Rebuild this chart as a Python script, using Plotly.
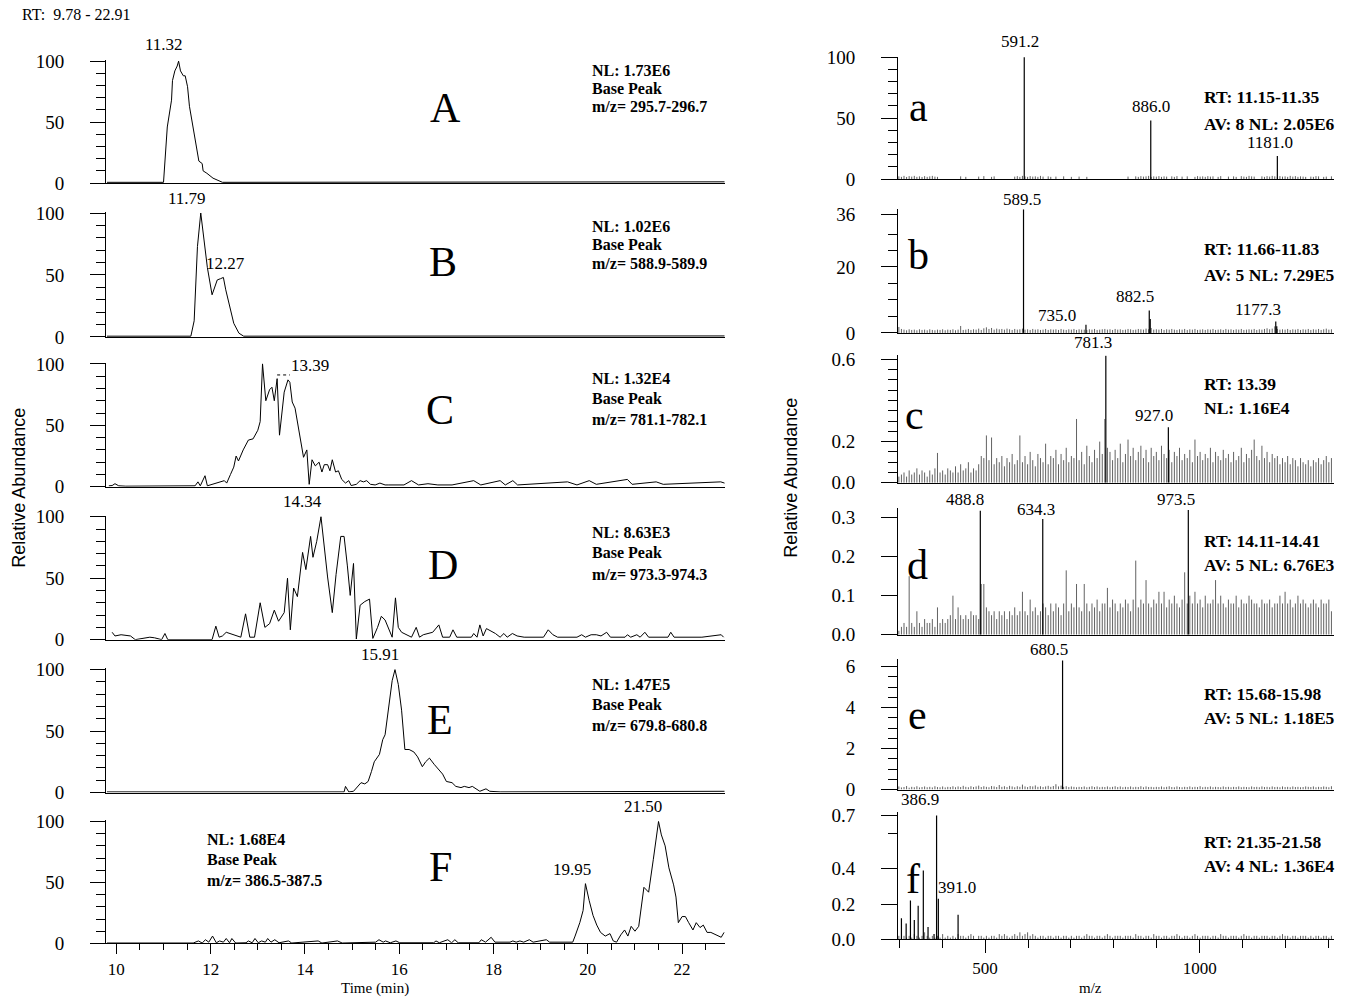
import plotly.graph_objects as go

# ======================= DATA =======================
# ---- Chromatograms: retention time (min) vs relative abundance (%) ----
A_t = [9.80, 11.00, 11.08, 11.12, 11.17, 11.19, 11.24, 11.29, 11.32, 11.36, 11.42, 11.46, 11.51,
       11.55, 11.61, 11.68, 11.75, 11.82, 11.84, 11.92, 12.05, 12.25, 15.00, 18.50, 22.90]
A_y = [0.6, 0.6, 46, 57, 68, 84, 92, 96, 100, 92, 88, 88, 79,
       63, 50, 35, 18, 16, 10, 8, 4, 0.6, 0.6, 1.0, 1.0]

B_t = [9.80, 11.58, 11.65, 11.72, 11.79, 11.86, 11.93, 12.03, 12.14, 12.21, 12.27, 12.32, 12.42,
       12.49, 12.60, 12.70, 22.90]
B_y = [0.6, 0.6, 13, 73, 100, 78, 56, 34, 46, 47, 48, 38, 22,
       11, 3, 0.6, 0.8]

C_t = [9.84, 9.91, 9.97, 10.05, 10.20, 11.67, 11.73, 11.78, 11.88, 11.93,
       12.29, 12.34, 12.42, 12.49, 12.54, 12.59, 12.69, 12.80, 12.90, 13.00,
       13.05, 13.10, 13.17, 13.25, 13.30, 13.35, 13.41, 13.46, 13.56, 13.64,
       13.68, 13.73, 13.79, 13.86, 13.97, 14.04, 14.09, 14.15, 14.22, 14.30,
       14.36, 14.41, 14.48, 14.53, 14.58, 14.65, 14.71, 14.78, 14.86, 14.93,
       14.98, 15.09, 15.17, 15.24, 15.31, 15.39, 15.49, 15.59, 15.70, 15.78,
       15.88, 16.00, 16.10, 16.26, 16.41, 16.61, 16.82, 17.12, 17.58, 17.73,
       18.14, 18.25, 18.41, 18.51, 19.57, 19.77, 20.03, 20.18, 20.84, 20.94,
       21.45, 21.60, 22.82, 22.90]
C_y = [0.8, 1, 2.5, 0.8, 0.5, 0.8, 4, 0.8, 9, 0.8,
       5, 3, 10, 16, 25, 21, 30, 38, 39, 46,
       53, 100, 70, 79, 81, 70, 88, 42, 77, 87,
       85, 69, 64, 49, 24, 30, 2, 22, 17, 20,
       12, 18, 18, 13, 22, 12, 13, 6, 3, 5,
       1, 2, 5, 4, 5, 2, 1.5, 3, 1.5, 1.5,
       1.5, 1.5, 1.5, 5, 1.5, 2.5, 1.5, 1.5, 5, 1.5,
       5, 1.5, 5, 1.5, 4, 1.5, 5, 2, 6, 2,
       4, 2, 4, 3]

D_t = [9.91, 9.97, 10.10, 10.22, 10.30, 10.40, 10.71, 10.81, 10.96, 11.03,
       11.09, 12.03, 12.11, 12.18, 12.25, 12.33, 12.43, 12.64, 12.74, 12.83,
       12.93, 13.05, 13.15, 13.25, 13.35, 13.44, 13.56, 13.63, 13.69, 13.76,
       13.84, 13.95, 14.02, 14.12, 14.17, 14.25, 14.34, 14.39, 14.48, 14.58,
       14.66, 14.76, 14.83, 14.90, 14.96, 15.03, 15.09, 15.17, 15.27, 15.37,
       15.44, 15.54, 15.62, 15.70, 15.80, 15.85, 15.92, 15.98, 16.05, 16.16,
       16.26, 16.36, 16.43, 16.51, 16.61, 16.71, 16.84, 16.92, 17.07, 17.14,
       17.22, 17.53, 17.58, 17.65, 17.71, 17.78, 17.85, 17.94, 18.04, 18.14,
       18.22, 18.29, 18.40, 18.50, 18.65, 19.06, 19.16, 19.26, 19.36, 19.77,
       19.87, 19.95, 20.07, 20.18, 20.28, 20.40, 20.48, 20.79, 20.84, 20.91,
       21.04, 21.11, 21.21, 21.29, 21.70, 21.76, 21.83, 22.42, 22.83, 22.88]
D_y = [6, 3, 4, 3.5, 3, 0, 2, 1.5, 0, 5,
       0, 0, 11, 2, 3, 6, 4.5, 2, 21, 2,
       2, 30, 10, 13, 24, 15, 22, 50, 8, 42,
       35, 71, 57, 84, 67, 80, 100, 81, 51, 22,
       53, 84, 84, 60, 36, 62, 0.5, 28, 31, 33,
       1, 10, 19, 16, 6, 2, 34, 10, 6, 4,
       2, 10, 2, 4, 5, 6, 12, 2, 2, 8,
       2, 2, 5, 2, 12, 3, 9, 7, 5, 2,
       5, 2, 5, 3, 2, 2, 8, 4, 2, 2,
       4, 2, 4, 4, 3, 6, 2, 2, 4, 2,
       4, 2, 6, 2, 2, 6, 2, 2, 4, 2]

E_t = [9.80, 14.83, 14.86, 14.93, 15.03, 15.19, 15.27, 15.34, 15.41, 15.47,
       15.58, 15.65, 15.70, 15.75, 15.80, 15.85, 15.91, 15.98, 16.05, 16.12,
       16.21, 16.31, 16.39, 16.49, 16.56, 16.64, 16.74, 16.82, 16.92, 17.00,
       17.12, 17.20, 17.31, 17.38, 17.48, 17.55, 17.63, 17.71, 17.84, 17.92,
       18.14, 22.90]
E_y = [0.5, 0.5, 5, 0.5, 1, 8, 7, 9, 17, 25,
       31, 43, 47, 63, 80, 91, 100, 88, 67, 35,
       35, 33, 29, 21, 25, 28, 23, 19, 15, 9,
       8, 5, 4, 5, 4, 5, 3, 1, 3, 1,
       0.5, 1]

F_t = [9.80, 11.63, 11.74, 11.82, 11.89, 11.96, 12.04, 12.12, 12.19, 12.27,
       12.33, 12.40, 12.45, 12.53, 12.75, 12.80, 12.88, 12.94, 13.01, 13.08,
       13.16, 13.21, 13.28, 13.36, 13.45, 13.65, 13.72, 14.28, 14.36, 14.69,
       14.79, 15.50, 15.57, 15.66, 15.71, 15.81, 15.93, 16.01, 16.73, 16.78,
       16.85, 17.03, 17.11, 17.18, 17.25, 17.69, 17.74, 17.83, 17.95, 18.03,
       18.35, 18.41, 18.48, 18.56, 18.64, 18.76, 18.84, 19.12, 19.19, 19.68,
       19.73, 19.83, 19.90, 19.95, 20.03, 20.11, 20.19, 20.27, 20.37, 20.47,
       20.54, 20.61, 20.70, 20.78, 20.85, 20.92, 21.00, 21.08, 21.19, 21.29,
       21.39, 21.50, 21.56, 21.64, 21.72, 21.82, 21.87, 21.92, 22.00, 22.07,
       22.14, 22.23, 22.30, 22.38, 22.45, 22.53, 22.61, 22.73, 22.83, 22.89]
F_y = [0.3, 0.3, 2, 0.3, 3, 1, 6, 0.5, 2, 1,
       4, 0.5, 4, 0.3, 0.5, 2, 0.5, 4, 0.5, 2,
       1, 4, 1, 3, 0.5, 2, 0.3, 2, 0.3, 2,
       0.3, 1, 3, 1, 2, 0.5, 2, 0.5, 0.5, 2,
       0.5, 3, 0.5, 3, 0.5, 0.5, 3, 1, 5, 1,
       1, 2, 1, 2, 1, 3, 1, 3, 1, 1,
       6, 17, 27, 49, 35, 23, 15, 9, 6, 8,
       2, 1, 7, 11, 6, 14, 10, 14, 46, 42,
       69, 100, 89, 80, 62, 48, 38, 17, 22, 22,
       17, 11, 17, 13, 15, 9, 9, 7, 5, 9]

# chromatogram peak labels (time, value)
A_peak_t, A_peak_y = [11.32], [100]
B_peak_t, B_peak_y = [11.79, 12.27], [100, 48]
C_peak_t, C_peak_y = [13.39], [88]
D_peak_t, D_peak_y = [14.34], [100]
E_peak_t, E_peak_y = [15.91], [100]
F_peak_t, F_peak_y = [19.95, 21.50], [49, 100]

# ---- Mass spectra: m/z vs relative abundance ----
# m/z grid of the low-level background sticks (shared by spectra a-f)
noise_mz = [299, 305, 311, 317, 323, 329, 335, 341, 347, 353,
            359, 365, 371, 377, 383, 389, 395, 401, 407, 413,
            419, 425, 431, 437, 443, 449, 455, 461, 467, 473,
            479, 485, 491, 497, 503, 509, 515, 521, 527, 533,
            539, 545, 551, 557, 563, 569, 575, 581, 587, 593,
            599, 605, 611, 617, 623, 629, 635, 641, 647, 653,
            659, 665, 671, 677, 683, 689, 695, 701, 707, 713,
            719, 725, 731, 737, 743, 749, 755, 761, 767, 773,
            779, 785, 791, 797, 803, 809, 815, 821, 827, 833,
            839, 845, 851, 857, 863, 869, 875, 881, 887, 893,
            899, 905, 911, 917, 923, 929, 935, 941, 947, 953,
            959, 965, 971, 977, 983, 989, 995, 1001, 1007, 1013,
            1019, 1025, 1031, 1037, 1043, 1049, 1055, 1061, 1067, 1073,
            1079, 1085, 1091, 1097, 1103, 1109, 1115, 1121, 1127, 1133,
            1139, 1145, 1151, 1157, 1163, 1169, 1175, 1181, 1187, 1193,
            1199, 1205, 1211, 1217, 1223, 1229, 1235, 1241, 1247, 1253,
            1259, 1265, 1271, 1277, 1283, 1289, 1295, 1301, 1307]

a_noise = [2.2, 1.8, 2.6, 1.7, 2.4, 2.0, 2.6, 1.8, 2.2, 1.7,
           2.4, 1.8, 2.2, 2.6, 2.0, 1.8, 0, 0, 0, 0,
           0, 0, 0, 0, 2.2, 0, 1.8, 0, 0, 0,
           0, 2.0, 0, 2.4, 0, 0, 1.8, 2.2, 0, 0,
           0, 0, 0, 0, 0, 2.0, 2.4, 1.8, 2.6, 2.2,
           1.8, 2.4, 2.0, 2.2, 1.8, 2.6, 2.0, 0, 2.2, 1.8,
           0, 2.0, 0, 0, 2.2, 0, 0, 1.8, 0, 0,
           2.0, 0, 0, 1.8, 0, 0, 0, 0, 0, 0,
           0, 0, 0, 0, 0, 0, 0, 0, 0, 2.0,
           0, 0, 2.2, 1.8, 2.4, 2.0, 2.2, 2.6, 1.8, 2.2,
           2.0, 2.4, 1.8, 2.2, 2.0, 0, 2.2, 1.8, 2.4, 0,
           2.0, 0, 2.2, 0, 0, 1.8, 2.4, 2.0, 2.2, 1.8,
           2.4, 2.0, 2.2, 0, 1.8, 2.4, 0, 0, 2.0, 0,
           2.2, 1.8, 0, 2.4, 2.0, 1.8, 2.6, 2.2, 2.0, 0,
           0, 2.2, 1.8, 2.4, 2.0, 2.6, 2.2, 1.8, 2.4, 2.0,
           2.2, 1.8, 2.6, 2.0, 2.4, 1.8, 2.2, 2.0, 1.8, 0,
           2.0, 1.8, 2.4, 2.2, 0, 1.8, 2.0, 0, 2.2]
a_peak_mz = [591.2, 886.0, 1181.0]
a_peak_int = [100, 48, 19]

b_noise = [1.8, 1.2, 1.0, 0.8, 1.1, 0.9, 1.0, 0.8, 1.1, 0.9,
           1.0, 0.8, 1.1, 0.9, 0.8, 1.0, 0.9, 1.1, 0.8, 1.0,
           0.9, 1.1, 0.8, 1.0, 2.1, 0.9, 1.0, 1.2, 0.9, 1.1,
           1.0, 1.3, 0.9, 1.4, 1.7, 1.2, 1.5, 1.0, 1.3, 1.1,
           1.2, 1.0, 1.3, 1.1, 0.9, 1.2, 1.0, 1.1, 1.3, 1.0,
           1.1, 0.9, 1.2, 1.0, 1.1, 0.9, 1.0, 1.2, 0.9, 1.1,
           1.0, 1.1, 0.9, 1.2, 1.0, 0.9, 1.1, 1.0, 1.2, 0.9,
           1.1, 1.0, 1.0, 0.9, 1.1, 1.0, 1.2, 0.9, 1.0, 1.1,
           1.2, 1.0, 1.1, 0.9, 1.2, 1.0, 1.1, 0.9, 1.0, 1.2,
           1.1, 0.9, 1.0, 1.2, 1.1, 1.0, 1.3, 1.1, 1.5, 1.0,
           1.1, 1.0, 1.2, 0.9, 1.1, 1.0, 1.2, 1.0, 0.9, 1.1,
           1.0, 1.2, 0.9, 1.1, 1.0, 1.2, 0.9, 1.0, 1.1, 0.9,
           1.1, 1.0, 1.2, 0.9, 1.0, 1.1, 0.9, 1.2, 1.0, 1.1,
           0.9, 1.1, 1.0, 1.2, 0.9, 1.0, 1.1, 1.0, 1.2, 0.9,
           1.1, 1.0, 1.2, 1.4, 1.1, 1.3, 2.0, 1.2, 1.0, 1.1,
           1.0, 1.2, 0.9, 1.1, 1.0, 1.2, 0.9, 1.1, 1.0, 1.2,
           0.9, 1.1, 1.0, 1.2, 0.9, 1.1, 1.3, 1.0, 1.1]
b_peak_mz = [589.5, 735.0, 882.5, 884.8, 1177.3, 1179.6]
b_peak_int = [37.5, 2.5, 6.8, 4.2, 3.5, 2.0]

c_noise = [0.03, 0.04, 0.05, 0.03, 0.06, 0.04, 0.05, 0.07, 0.04, 0.06,
           0.05, 0.03, 0.06, 0.04, 0.07, 0.145, 0.05, 0.06, 0.04, 0.07,
           0.06, 0.05, 0.08, 0.05, 0.09, 0.06, 0.07, 0.10, 0.05, 0.07,
           0.06, 0.09, 0.13, 0.12, 0.23, 0.11, 0.22, 0.09, 0.12, 0.10,
           0.13, 0.08, 0.12, 0.10, 0.14, 0.09, 0.11, 0.23, 0.10, 0.13,
           0.09, 0.15, 0.11, 0.08, 0.14, 0.12, 0.10, 0.19, 0.09, 0.13,
           0.12, 0.16, 0.09, 0.14, 0.11, 0.17, 0.10, 0.13, 0.12, 0.31,
           0.11, 0.15, 0.09, 0.18, 0.13, 0.10, 0.16, 0.12, 0.20, 0.14,
           0.31, 0.17, 0.15, 0.11, 0.16, 0.12, 0.19, 0.10, 0.14, 0.21,
           0.13, 0.17, 0.11, 0.15, 0.18, 0.12, 0.16, 0.10, 0.17, 0.13,
           0.15, 0.11, 0.18, 0.14, 0.12, 0.16, 0.10, 0.15, 0.13, 0.17,
           0.11, 0.14, 0.12, 0.16, 0.10, 0.21, 0.13, 0.15, 0.11, 0.14,
           0.12, 0.17, 0.10, 0.15, 0.13, 0.11, 0.16, 0.12, 0.14, 0.10,
           0.15, 0.11, 0.13, 0.17, 0.10, 0.14, 0.12, 0.16, 0.21, 0.13,
           0.11, 0.18, 0.12, 0.15, 0.10, 0.14, 0.12, 0.13, 0.09, 0.12,
           0.10, 0.13, 0.09, 0.12, 0.11, 0.08, 0.12, 0.10, 0.09, 0.11,
           0.08, 0.11, 0.10, 0.12, 0.09, 0.11, 0.13, 0.10, 0.12]
c_peak_mz = [781.3, 927.0]
c_peak_int = [0.617, 0.27]

d_noise = [0.01, 0.02, 0.03, 0.02, 0.15, 0.03, 0.02, 0.06, 0.03, 0.02,
           0.04, 0.03, 0.03, 0.04, 0.02, 0.07, 0.03, 0.04, 0.03, 0.04,
           0.05, 0.10, 0.04, 0.07, 0.05, 0.04, 0.05, 0.04, 0.06, 0.05,
           0.05, 0.04, 0.13, 0.13, 0.07, 0.06, 0.05, 0.06, 0.04, 0.06,
           0.05, 0.06, 0.04, 0.06, 0.05, 0.07, 0.05, 0.06, 0.11, 0.06,
           0.05, 0.09, 0.06, 0.07, 0.05, 0.06, 0.08, 0.07, 0.05, 0.08,
           0.06, 0.08, 0.07, 0.05, 0.08, 0.165, 0.06, 0.08, 0.07, 0.13,
           0.07, 0.06, 0.13, 0.08, 0.06, 0.08, 0.07, 0.09, 0.06, 0.08,
           0.08, 0.12, 0.07, 0.09, 0.08, 0.06, 0.08, 0.07, 0.09, 0.08,
           0.06, 0.09, 0.19, 0.07, 0.09, 0.08, 0.14, 0.08, 0.07, 0.09,
           0.08, 0.11, 0.08, 0.11, 0.07, 0.09, 0.08, 0.10, 0.08, 0.07,
           0.09, 0.16, 0.08, 0.10, 0.08, 0.11, 0.08, 0.09, 0.07, 0.10,
           0.08, 0.08, 0.09, 0.14, 0.08, 0.10, 0.08, 0.07, 0.09, 0.08,
           0.08, 0.10, 0.07, 0.09, 0.08, 0.08, 0.10, 0.09, 0.08, 0.08,
           0.07, 0.09, 0.08, 0.08, 0.09, 0.07, 0.08, 0.08, 0.10, 0.08,
           0.11, 0.08, 0.09, 0.07, 0.08, 0.10, 0.08, 0.09, 0.08, 0.07,
           0.08, 0.09, 0.08, 0.07, 0.09, 0.08, 0.08, 0.09, 0.06]
d_peak_mz = [488.8, 634.3, 973.5]
d_peak_int = [0.318, 0.297, 0.320]

e_noise = [0.15, 0.10, 0.12, 0.17, 0.09, 0.13, 0.11, 0.16, 0.10, 0.12,
           0.15, 0.11, 0.13, 0.10, 0.16, 0.12, 0.11, 0.15, 0.10, 0.13,
           0.12, 0.16, 0.11, 0.15, 0.12, 0.18, 0.13, 0.11, 0.16, 0.12,
           0.15, 0.19, 0.12, 0.16, 0.13, 0.11, 0.17, 0.15, 0.12, 0.22,
           0.13, 0.16, 0.12, 0.18, 0.15, 0.11, 0.16, 0.13, 0.24, 0.15,
           0.12, 0.17, 0.15, 0.20, 0.13, 0.16, 0.12, 0.15, 0.18, 0.13,
           0.17, 0.26, 0.15, 0.19, 0.13, 0.16, 0.12, 0.15, 0.13, 0.11,
           0.13, 0.12, 0.15, 0.11, 0.13, 0.16, 0.12, 0.15, 0.11, 0.13,
           0.12, 0.15, 0.11, 0.13, 0.16, 0.12, 0.15, 0.11, 0.13, 0.12,
           0.15, 0.11, 0.13, 0.12, 0.16, 0.11, 0.15, 0.12, 0.13, 0.11,
           0.13, 0.12, 0.15, 0.11, 0.13, 0.16, 0.12, 0.11, 0.15, 0.12,
           0.11, 0.13, 0.12, 0.15, 0.11, 0.13, 0.12, 0.16, 0.11, 0.13,
           0.12, 0.15, 0.11, 0.13, 0.12, 0.11, 0.15, 0.12, 0.13, 0.11,
           0.13, 0.12, 0.15, 0.11, 0.13, 0.12, 0.11, 0.15, 0.12, 0.13,
           0.11, 0.15, 0.12, 0.13, 0.11, 0.15, 0.12, 0.13, 0.11, 0.15,
           0.12, 0.13, 0.11, 0.15, 0.12, 0.13, 0.11, 0.12, 0.15, 0.13,
           0.12, 0.15, 0.11, 0.13, 0.12, 0.15, 0.13, 0.11, 0.16]
e_peak_mz = [680.5]
e_peak_int = [6.3]

f_noise = [0.02, 0.01, 0.02, 0.01, 0.02, 0.01, 0.03, 0.02, 0.01, 0.02,
           0.04, 0.02, 0.01, 0.02, 0.01, 0.02, 0.01, 0.03, 0.01, 0.02,
           0.01, 0.02, 0.01, 0.03, 0.02, 0.02, 0.01, 0.02, 0.03, 0.02,
           0, 0.02, 0.02, 0.01, 0.02, 0.01, 0.02, 0.02, 0.01, 0.03,
           0.02, 0.03, 0.02, 0.01, 0.02, 0.03, 0.02, 0.04, 0.02, 0.03,
           0.04, 0.02, 0.03, 0.02, 0.01, 0.02, 0.02, 0.01, 0.02, 0.02,
           0.01, 0.02, 0.02, 0.01, 0.02, 0.02, 0.01, 0.02, 0.01, 0.02,
           0.02, 0.01, 0.02, 0.03, 0.02, 0.02, 0.01, 0.02, 0.02, 0.01,
           0.02, 0.03, 0.02, 0.01, 0.02, 0.02, 0.02, 0.01, 0.02, 0.02,
           0.02, 0.01, 0.03, 0.02, 0.02, 0.01, 0.02, 0.02, 0.01, 0.03,
           0.02, 0.02, 0.01, 0.02, 0.02, 0.01, 0.02, 0.02, 0.03, 0.02,
           0.01, 0.02, 0.02, 0.01, 0.02, 0.03, 0.02, 0.01, 0.02, 0.02,
           0.02, 0.01, 0.02, 0.02, 0.01, 0.03, 0.02, 0.02, 0.01, 0.02,
           0.02, 0.02, 0.01, 0.02, 0.03, 0.02, 0.02, 0.01, 0.02, 0.02,
           0.01, 0.02, 0.02, 0.02, 0.01, 0.02, 0.02, 0.01, 0.02, 0.03,
           0.02, 0.02, 0.01, 0.02, 0.02, 0.01, 0.02, 0.02, 0.02, 0.01,
           0.02, 0.01, 0.02, 0.02, 0.01, 0.02, 0.02, 0.01, 0.02]
f_peak_mz = [305, 316, 326, 335, 344, 356, 367, 381, 386.9, 391.0, 437]
f_peak_int = [0.12, 0.09, 0.22, 0.11, 0.19, 0.39, 0.07, 0.03, 0.70, 0.23, 0.14]

# ---- Text ----
chrom_letters = ["A", "B", "C", "D", "E", "F"]
chrom_info = [["NL: 1.73E6", "Base Peak", "m/z= 295.7-296.7"],
              ["NL: 1.02E6", "Base Peak", "m/z= 588.9-589.9"],
              ["NL: 1.32E4", "Base Peak", "m/z= 781.1-782.1"],
              ["NL: 8.63E3", "Base Peak", "m/z= 973.3-974.3"],
              ["NL: 1.47E5", "Base Peak", "m/z= 679.8-680.8"],
              ["NL: 1.68E4", "Base Peak", "m/z= 386.5-387.5"]]
spec_letters = ["a", "b", "c", "d", "e", "f"]
spec_info = [["RT: 11.15-11.35", "AV: 8 NL: 2.05E6"],
             ["RT: 11.66-11.83", "AV: 5 NL: 7.29E5"],
             ["RT: 13.39", "NL: 1.16E4"],
             ["RT: 14.11-14.41", "AV: 5 NL: 6.76E3"],
             ["RT: 15.68-15.98", "AV: 5 NL: 1.18E5"],
             ["RT: 21.35-21.58", "AV: 4 NL: 1.36E4"]]
spec_yticks = [[0, 50, 100], [0, 20, 36], [0, 0.2, 0.6], [0, 0.1, 0.2, 0.3], [0, 2, 4, 6], [0, 0.2, 0.4, 0.7]]
spec_yticktext = [["0", "50", "100"], ["0", "20", "36"], ["0.0", "0.2", "0.6"],
                  ["0.0", "0.1", "0.2", "0.3"], ["0", "2", "4", "6"], ["0.0", "0.2", "0.4", "0.7"]]
spec_yminor = [[10, 20, 30, 40, 60, 70, 80, 90], [5, 10, 15, 25, 30],
               [0.05, 0.1, 0.15, 0.25, 0.3, 0.35, 0.4, 0.45, 0.5, 0.55], [],
               [0.5, 1, 1.5, 2.5, 3, 3.5, 4.5, 5, 5.5], [0.6]]

# ======================= LAYOUT (pixel geometry) =======================
W, H = 1348, 1007
SERIF = "Liberation Serif, Times New Roman, serif"
SANS = "Liberation Sans, Arial, sans-serif"
# vertical calibration of the photographed page (picture y = OFF + K * page y)
K, OFF = 0.98, 9.8


def fy(y_pic):
    """page y (px) that lands at the wanted picture y."""
    return (y_pic - OFF) / K


L_X = (106, 725)
L_RANGE = [9.78, 22.91]
L_ZERO = [183, 337, 487, 640, 793, 944]          # picture px of the 0 % line
L_HUND = [61, 213, 364, 517, 670, 822]           # picture px of the 100 % tick
R_X = (898, 1334)
R_RANGE = [297, 1313]
R_ZERO = [179, 333, 483, 635, 790, 940]
R_SCALE = [1.22, 3.3, 206, 390, 20.5, 177]       # picture px per unit
R_TOP = [100.5, 37.5, 0.62, 0.325, 6.35, 0.72]


def px_dom_x(a, b):
    return [a / W, b / W]


def dom_y(bottom_pic, top_pic):
    return [1 - fy(bottom_pic) / H, 1 - fy(top_pic) / H]


def ax_names(n):
    return ("xaxis" if n == 1 else f"xaxis{n}", "yaxis" if n == 1 else f"yaxis{n}",
            "x" if n == 1 else f"x{n}", "y" if n == 1 else f"y{n}")


def sticks(mz, inten):
    xs, ys = [], []
    for m, v in zip(mz, inten):
        if v > 0:
            xs += [m, m, None]
            ys += [0, v, None]
    return xs, ys


fig = go.Figure()
layout = dict(width=W, height=H, autosize=False, margin=dict(l=0, r=0, t=0, b=0),
              paper_bgcolor="white", plot_bgcolor="white", showlegend=False)
annotations = []
shapes = []

tickfont = dict(family=SERIF, size=19, color="black")
xtickfont = dict(family=SERIF, size=17, color="black")

chroms = [(A_t, A_y, A_peak_t, A_peak_y), (B_t, B_y, B_peak_t, B_peak_y),
          (C_t, C_y, C_peak_t, C_peak_y), (D_t, D_y, D_peak_t, D_peak_y),
          (E_t, E_y, E_peak_t, E_peak_y), (F_t, F_y, F_peak_t, F_peak_y)]
chrom_label_shift = [[(-15, 16)], [(-14, 14), (2, 14)], [(34, 13)], [(-18, 15)], [(-15, 15)],
                     [(-13, 14), (-16, 15)]]

for i, (t, y, pt, pv) in enumerate(chroms):
    n = 2 * i + 1
    xa, ya, xr, yr = ax_names(n)
    zero = L_ZERO[i]
    top = zero - (zero - L_HUND[i]) * 1.01
    fig.add_trace(go.Scatter(x=t, y=y, mode="lines", line=dict(color="black", width=1),
                             xaxis=xr, yaxis=yr, hoverinfo="skip"))
    bottom_row = (i == 5)
    layout[xa] = dict(domain=px_dom_x(*L_X), range=L_RANGE, anchor=yr, showline=True,
                      linecolor="black", linewidth=1, showgrid=False, zeroline=False,
                      ticks="outside" if bottom_row else "", showticklabels=bottom_row,
                      tickvals=[10, 12, 14, 16, 18, 20, 22], ticklen=10, tickcolor="black",
                      tickfont=xtickfont, ticklabelstandoff=0,
                      minor=dict(dtick=0.5, tick0=10, ticklen=6, ticks="outside" if bottom_row else "",
                                 tickcolor="black", showgrid=False))
    layout[ya] = dict(domain=dom_y(zero, top), range=[0, 101], anchor=xr, showline=True,
                      linecolor="black", linewidth=1, showgrid=False, zeroline=False,
                      ticks="outside", tickvals=[0, 50, 100], ticktext=["0", "50", "100"],
                      ticklen=15, tickcolor="black", tickfont=tickfont, ticklabelstandoff=22,
                      minor=dict(tickvals=[10, 20, 30, 40, 60, 70, 80, 90], ticklen=9,
                                 ticks="outside", tickcolor="black", showgrid=False))
    for k, (ptt, pvv) in enumerate(zip(pt, pv)):
        dx, dy = chrom_label_shift[i][k]
        annotations.append(dict(x=ptt, y=pvv, xref=xr, yref=yr, text=f"{ptt:.2f}",
                                showarrow=False, xanchor="center", yanchor="middle",
                                xshift=dx, yshift=dy / K, font=dict(family=SERIF, size=17, color="black")))

# dotted leader under the 13.39 label (panel C)
shapes.append(dict(type="line", xref="x5", yref="y5", x0=C_peak_t[0] + 0.02, x1=C_peak_t[0] + 0.29,
                   y0=C_peak_y[0] + 3, y1=C_peak_y[0] + 3, line=dict(color="black", width=1, dash="dot")))

spectra = [(a_noise, a_peak_mz, a_peak_int), (b_noise, b_peak_mz, b_peak_int),
           (c_noise, c_peak_mz, c_peak_int), (d_noise, d_peak_mz, d_peak_int),
           (e_noise, e_peak_mz, e_peak_int), (f_noise, f_peak_mz, f_peak_int)]
spec_labels = [
    [(591.2, 100, -4, 15), (886.0, 48, 0, 14), (1181.0, 19, -7, 13)],
    [(589.5, 37.5, -2, 10), (735.0, 2.5, -29, 9), (882.5, 6.8, -14, 14), (1177.3, 3.5, -18, 12)],
    [(781.3, 0.617, -13, 13), (927.0, 0.27, -14, 11)],
    [(488.8, 0.318, -15, 11), (634.3, 0.297, -7, 9), (973.5, 0.320, -12, 10)],
    [(680.5, 6.3, -14, 11)],
    [(386.9, 0.70, -17, 16), (391.0, 0.23, 19, 11)],
]

for i, (noise, pmz, pint) in enumerate(spectra):
    n = 2 * i + 2
    xa, ya, xr, yr = ax_names(n)
    zero = R_ZERO[i]
    top = zero - R_TOP[i] * R_SCALE[i]
    nx, ny = sticks(noise_mz, noise)
    fig.add_trace(go.Scatter(x=nx, y=ny, mode="lines", line=dict(color="#3a3a3a", width=0.8),
                             xaxis=xr, yaxis=yr, hoverinfo="skip", connectgaps=False))
    px_, py_ = sticks(pmz, pint)
    fig.add_trace(go.Scatter(x=px_, y=py_, mode="lines", line=dict(color="black", width=1.2),
                             xaxis=xr, yaxis=yr, hoverinfo="skip", connectgaps=False))
    bottom_row = (i == 5)
    layout[xa] = dict(domain=px_dom_x(*R_X), range=R_RANGE, anchor=yr, showline=True,
                      linecolor="black", linewidth=1, showgrid=False, zeroline=False,
                      ticks="outside" if bottom_row else "", showticklabels=bottom_row,
                      tickvals=[500, 1000], ticklen=13, tickcolor="black", tickfont=xtickfont,
                      ticklabelstandoff=0,
                      minor=dict(tickvals=[300, 400, 600, 700, 800, 900, 1100, 1200, 1300],
                                 ticklen=8, ticks="outside" if bottom_row else "",
                                 tickcolor="black", showgrid=False))
    layout[ya] = dict(domain=dom_y(zero, top), range=[0, R_TOP[i]], anchor=xr, showline=True,
                      linecolor="black", linewidth=1, showgrid=False, zeroline=False,
                      ticks="outside", tickvals=spec_yticks[i], ticktext=spec_yticktext[i],
                      ticklen=16, tickcolor="black", tickfont=tickfont, ticklabelstandoff=22,
                      minor=dict(tickvals=spec_yminor[i], ticklen=9, ticks="outside",
                                 tickcolor="black", showgrid=False))
    for (m, v, dx, dy) in spec_labels[i]:
        annotations.append(dict(x=m, y=v, xref=xr, yref=yr, text=f"{m:.1f}", showarrow=False,
                                xanchor="center", yanchor="middle", xshift=dx, yshift=dy / K,
                                font=dict(family=SERIF, size=17, color="black")))


def paper_text(text, x, y_pic, size, family=SERIF, bold=False, xanchor="left", angle=0, yanchor="middle"):
    return dict(x=x / W, y=1 - fy(y_pic) / H, xref="paper", yref="paper",
                text=f"<b>{text}</b>" if bold else text,
                showarrow=False, xanchor=xanchor, yanchor=yanchor, textangle=angle,
                font=dict(family=family, size=size, color="black"))


letter_pos_L = [(445, 108), (443, 262), (440, 410), (443, 565), (440, 720), (440, 868)]
letter_pos_R = [(918, 107), (918, 255), (914, 415), (917, 565), (917, 715), (913, 880)]
for s, (x, y) in zip(chrom_letters, letter_pos_L):
    annotations.append(paper_text(s, x, y, 42, xanchor="center"))
for s, (x, y) in zip(spec_letters, letter_pos_R):
    annotations.append(paper_text(s, x, y, 42, xanchor="center"))

info_L = [(590, [70, 88, 106]), (590, [226, 245, 264]), (590, [379, 399, 420]),
          (590, [533, 553, 575]), (590, [685, 705, 726]), (205, [840, 860, 881])]
for lines, (x, ys) in zip(chrom_info, info_L):
    for s, y in zip(lines, ys):
        annotations.append(paper_text(s, x, y, 16, bold=True))
info_R = [[97, 124], [249, 275], [384, 408], [541, 565], [694, 718], [843, 867]]
for lines, ys in zip(spec_info, info_R):
    for s, y in zip(lines, ys):
        annotations.append(paper_text(s, 1202, y, 17.5, bold=True))

annotations.append(paper_text("RT:&nbsp;&nbsp;9.78 - 22.91", 20, 14, 16))
annotations.append(paper_text("Time (min)", 375, 989, 15, xanchor="center"))
annotations.append(paper_text("m/z", 1090, 989, 15, xanchor="center"))
annotations.append(paper_text("Relative Abundance", 19, 488, 18, family=SANS, xanchor="center", angle=-90))
annotations.append(paper_text("Relative Abundance", 791, 478, 18, family=SANS, xanchor="center", angle=-90))

layout["annotations"] = annotations
layout["shapes"] = shapes
fig.update_layout(**layout)
fig.write_html(
    "out.html", config={"displayModeBar": False, "responsive": False},
    post_script=("var gd=document.getElementById('{plot_id}');"
                 "gd.style.position='fixed';gd.style.left='0px';gd.style.top='0px';"
                 "document.documentElement.style.margin='0';document.documentElement.style.overflow='hidden';"
                 "document.body.style.margin='0';document.body.style.padding='0';"
                 "document.body.style.overflow='hidden';document.body.style.height='1007px';"))
